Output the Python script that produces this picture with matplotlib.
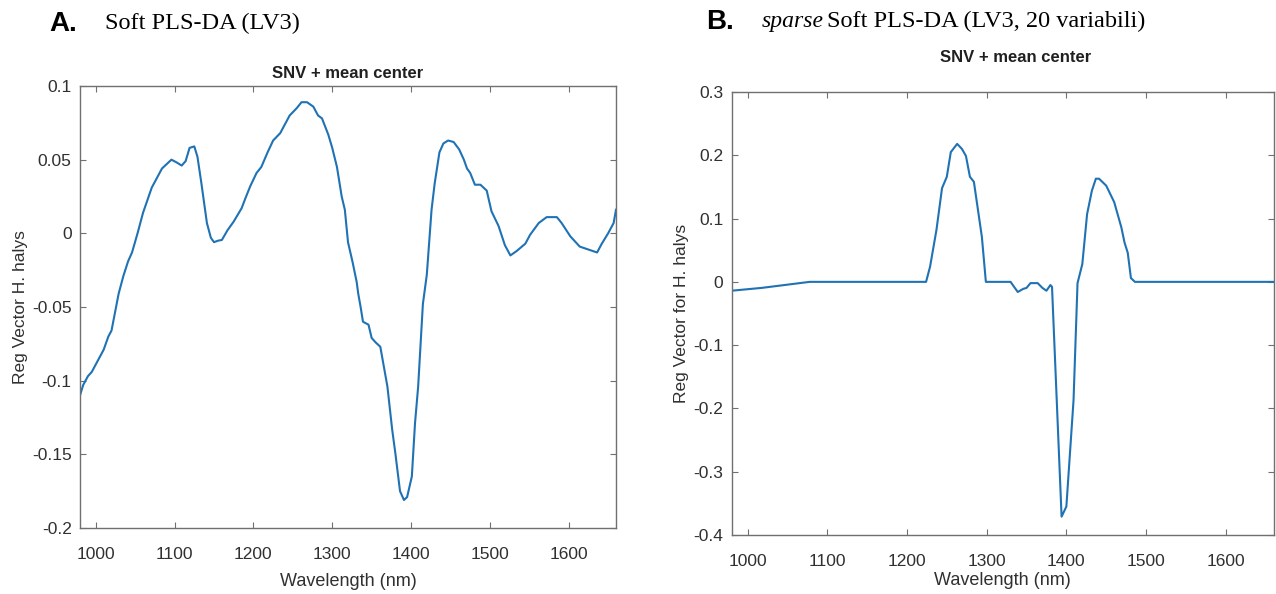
import matplotlib
matplotlib.use("Agg")
import matplotlib.pyplot as plt

# ---------------- data ----------------
wl_a = [980, 984, 990, 995, 1001, 1010, 1016, 1020, 1029, 1035, 1041, 1046, 1053,
        1060, 1071, 1084, 1096, 1103, 1109, 1114, 1119, 1125, 1129, 1134, 1141,
        1146, 1150, 1155, 1160, 1167, 1175, 1185, 1190, 1196, 1204, 1210, 1218,
        1225, 1234, 1240, 1246, 1255, 1261, 1268, 1276, 1282, 1287, 1295, 1300,
        1306, 1312, 1316, 1320, 1326, 1331, 1333, 1336, 1339, 1346, 1350, 1355,
        1361, 1370, 1376, 1380, 1386, 1391, 1395, 1401, 1405, 1409, 1415, 1420,
        1426, 1430, 1436, 1441, 1447, 1454, 1461, 1467, 1471, 1475, 1481, 1488,
        1496, 1502, 1511, 1519, 1526, 1534, 1545, 1551, 1562, 1572, 1585, 1591,
        1602, 1614, 1625, 1636, 1642, 1650, 1657, 1660]
reg_a = [-0.110, -0.103, -0.097, -0.094, -0.088, -0.079, -0.070, -0.066, -0.041,
         -0.029, -0.019, -0.013, 0.000, 0.014, 0.031, 0.044, 0.050, 0.048, 0.046,
         0.049, 0.058, 0.059, 0.052, 0.034, 0.007, -0.003, -0.006, -0.005, -0.0045,
         0.002, 0.008, 0.017, 0.024, 0.032, 0.041, 0.045, 0.055, 0.063, 0.068,
         0.074, 0.080, 0.085, 0.089, 0.089, 0.086, 0.080, 0.078, 0.067, 0.058,
         0.045, 0.025, 0.016, -0.006, -0.020, -0.033, -0.041, -0.050, -0.060,
         -0.062, -0.071, -0.074, -0.077, -0.104, -0.133, -0.149, -0.175, -0.181,
         -0.179, -0.165, -0.129, -0.104, -0.048, -0.028, 0.016, 0.034, 0.055,
         0.061, 0.063, 0.062, 0.057, 0.050, 0.044, 0.041, 0.033, 0.033, 0.029,
         0.015, 0.005, -0.008, -0.015, -0.012, -0.007, -0.001, 0.007, 0.011,
         0.011, 0.007, -0.002, -0.009, -0.011, -0.013, -0.007, 0.000, 0.007, 0.016]

wl_b = [980, 1018, 1078, 1224, 1229, 1237, 1244, 1250, 1255, 1263, 1269, 1274,
        1279, 1284, 1294, 1299, 1330, 1339, 1346, 1350, 1355, 1364, 1370, 1375,
        1380, 1382, 1394, 1400, 1409, 1414, 1420, 1426, 1432, 1437, 1441, 1450,
        1460, 1469, 1473, 1477, 1481, 1486, 1660]
reg_b = [-0.014, -0.0095, 0.0, 0.0, 0.024, 0.082, 0.148, 0.166, 0.205, 0.218,
         0.210, 0.199, 0.166, 0.158, 0.071, 0.0, 0.0, -0.016, -0.011, -0.0096,
         -0.002, -0.002, -0.0096, -0.014, -0.005, -0.008, -0.371, -0.355, -0.187,
         -0.002, 0.028, 0.107, 0.144, 0.163, 0.163, 0.152, 0.126, 0.086, 0.062,
         0.046, 0.006, 0.0, 0.0]

xticks = [1000, 1100, 1200, 1300, 1400, 1500, 1600]
yticks_a = [-0.2, -0.15, -0.1, -0.05, 0, 0.05, 0.1]
yticklabels_a = ["-0.2", "-0.15", "-0.1", "-0.05", "0", "0.05", "0.1"]
yticks_b = [-0.4, -0.3, -0.2, -0.1, 0, 0.1, 0.2, 0.3]
yticklabels_b = ["-0.4", "-0.3", "-0.2", "-0.1", "0", "0.1", "0.2", "0.3"]

# ---------------- style ----------------
plt.rcParams['font.family'] = ['Liberation Sans', 'DejaVu Sans']
LINE = '#1f72b4'
FRAME = '#707070'
TXT = '#303030'

W, H = 1276, 594
fig = plt.figure(figsize=(W / 100, H / 100), dpi=100)


def style(ax, yt, ytl, ylim):
    ax.set_xlim(980, 1660)
    ax.set_ylim(*ylim)
    ax.set_xticks(xticks)
    ax.set_xticklabels([str(t) for t in xticks])
    ax.set_yticks(yt)
    ax.set_yticklabels(ytl)
    ax.tick_params(direction='in', length=4.5, width=0.8, color=FRAME,
                   labelcolor=TXT, labelsize=12.5, top=True, right=True)
    ax.tick_params(axis='x', pad=14)
    ax.tick_params(axis='y', pad=6)
    for s in ax.spines.values():
        s.set_color(FRAME)
        s.set_linewidth(1.0)


# Panel A
axA = fig.add_axes([80 / W, 1 - 528 / H, 536 / W, 442 / H])
axA.plot(wl_a, reg_a, color=LINE, lw=1.5)
style(axA, yticks_a, yticklabels_a, (-0.2, 0.1))
axA.set_xlabel("Wavelength (nm)", fontsize=13, color=TXT, labelpad=7.5)
axA.set_ylabel("Reg Vector H. halys", fontsize=12.5, color=TXT, labelpad=3)
axA.set_title("SNV + mean center", fontsize=12, fontweight='bold',
              color='#202020', pad=6)

# Panel B
axB = fig.add_axes([731.6 / W, 1 - 535 / H, 542 / W, 443 / H])
axB.plot(wl_b, reg_b, color=LINE, lw=1.5)
style(axB, yticks_b, yticklabels_b, (-0.4, 0.3))
axB.set_xlabel("Wavelength (nm)", fontsize=13, color=TXT, labelpad=2)
axB.set_ylabel("Reg Vector for H. halys", fontsize=12.5, color=TXT, labelpad=3)
fig.text(1016 / W, 1 - 58 / H, "SNV + mean center", fontsize=12,
         fontweight='bold', color='#202020', ha='center', va='center')

# Panel headings
fig.text(49 / W, 1 - 24 / H, "A.", fontsize=20, fontweight='bold',
         ha='left', va='center', color='black')
fig.text(105 / W, 1 - 23 / H, "Soft PLS-DA (LV3)", fontsize=17.5,
         family='Liberation Serif', ha='left', va='center', color='black')
fig.text(706 / W, 1 - 22 / H, "B.", fontsize=20, fontweight='bold',
         ha='left', va='center', color='black')
fig.text(762 / W, 1 - 21 / H, "sparse", fontsize=17, style='italic',
         family='Liberation Serif', ha='left', va='center', color='black')
fig.text(827 / W, 1 - 21 / H, "Soft PLS-DA (LV3, 20 variabili)", fontsize=17.5,
         family='Liberation Serif', ha='left', va='center', color='black')

fig.savefig("out.png", dpi=100)
